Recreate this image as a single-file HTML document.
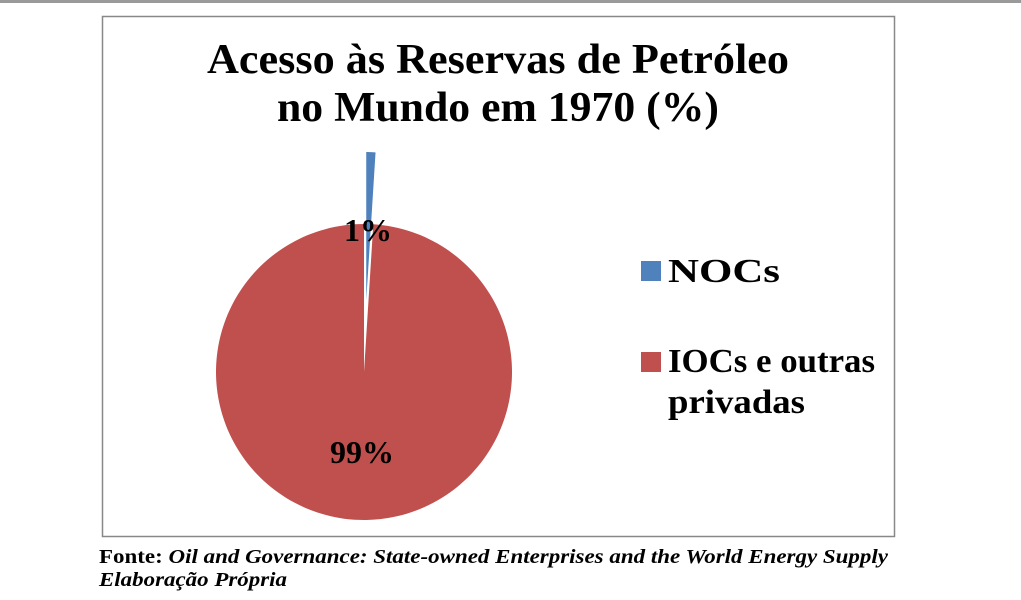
<!DOCTYPE html>
<html><head><meta charset="utf-8"><style>
html,body{margin:0;padding:0;background:#fff;width:1021px;height:600px;overflow:hidden}
svg{display:block}
text{font-family:"Liberation Serif",serif}
</style></head><body>
<svg width="1021" height="600" viewBox="0 0 1021 600">
<rect x="0" y="0" width="1021" height="3" fill="#9a9a9a"/>
<rect x="102.5" y="16.5" width="792" height="520" fill="#fff" stroke="#888" stroke-width="1.5"/>
<text x="498" y="73" text-anchor="middle" font-size="42" font-weight="bold" textLength="582" lengthAdjust="spacingAndGlyphs">Acesso às Reservas de Petróleo</text>
<text x="498" y="121" text-anchor="middle" font-size="42" font-weight="bold" textLength="442" lengthAdjust="spacingAndGlyphs">no Mundo em 1970 (%)</text>
<g id="pie"></g>
<rect x="641" y="261" width="20" height="20" fill="#4f81bd"/>
<text x="668" y="282" font-size="34" font-weight="bold" textLength="112" lengthAdjust="spacingAndGlyphs">NOCs</text>
<rect x="641" y="352" width="20" height="20" fill="#c0504d"/>
<text x="668" y="372" font-size="34" font-weight="bold" textLength="207" lengthAdjust="spacingAndGlyphs">IOCs e outras</text>
<text x="668" y="413" font-size="34" font-weight="bold" textLength="137" lengthAdjust="spacingAndGlyphs">privadas</text>
<text x="99" y="563" font-size="20" textLength="789" lengthAdjust="spacingAndGlyphs"><tspan font-weight="bold">Fonte: </tspan><tspan font-weight="bold" font-style="italic">Oil and Governance: State-owned Enterprises and the World Energy Supply</tspan></text>
<text x="99" y="586" font-size="20" font-weight="bold" font-style="italic" textLength="188" lengthAdjust="spacingAndGlyphs">Elaboração Própria</text>
</svg>
<script>
const categories = ["NOCs", "IOCs e outras privadas"];
const values = [1, 99];
const labels = ["1%", "99%"];
const colors = ["#4f81bd", "#c0504d"];
const NS = "http://www.w3.org/2000/svg";
const g = document.getElementById("pie");
const cx = 364, cy = 372, r = 148;
const total = values.reduce((a, b) => a + b, 0);
let start = 0;
values.forEach((v, i) => {
  const frac = v / total;
  const a0 = start * 2 * Math.PI, a1 = (start + frac) * 2 * Math.PI;
  const mid = (a0 + a1) / 2;
  const explode = i === 0 ? 72 : 0;
  const ox = cx + explode * Math.sin(mid), oy = cy - explode * Math.cos(mid);
  const x0 = ox + r * Math.sin(a0), y0 = oy - r * Math.cos(a0);
  const x1 = ox + r * Math.sin(a1), y1 = oy - r * Math.cos(a1);
  const large = frac > 0.5 ? 1 : 0;
  const p = document.createElementNS(NS, "path");
  p.setAttribute("d", `M${ox},${oy} L${x0},${y0} A${r},${r} 0 ${large} 1 ${x1},${y1} Z`);
  p.setAttribute("fill", colors[i]);
  
  
  g.appendChild(p);
  start += frac;
});
values.forEach((v, i) => {
  let lx, ly;
  if (i === 0) { lx = cx + 4; ly = 241; }
  else { lx = cx - 2; ly = 463; }
  const t = document.createElementNS(NS, "text");
  t.setAttribute("x", lx); t.setAttribute("y", ly);
  t.setAttribute("text-anchor", "middle");
  t.setAttribute("font-size", "32");
  t.setAttribute("font-weight", "bold");
  t.textContent = labels[i];
  
  
  g.appendChild(t);
});
</script>
</body></html>
